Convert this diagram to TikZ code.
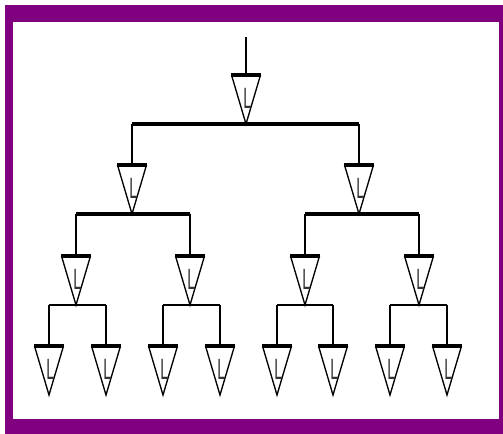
\documentclass[tikz,border=0pt]{standalone}
\usepackage{fontspec}
\setsansfont{Liberation Sans}
\definecolor{framepurple}{RGB}{128,0,128}
\tikzset{
  cone/.pic={
    \coordinate (-top) at (0,0);
    \coordinate (-tip) at (0,49);
    \draw [line width=1pt] (-14.5,0) -- (-tip) -- (14.5,0);
    \draw [line width=2.4pt] (-15,0) -- (15,0);
    \node (-lbl) [inner sep=0pt,xscale=0.5,font=\sffamily\fontsize{22}{22}\selectfont,text=black!80]
      at (1.5,23) {L};
  },
  bar/.style={line width=3pt},
  thinbar/.style={line width=1.8pt},
  leg/.style={line width=1.4pt}
}
\begin{document}
\begin{tikzpicture}[x=0.75pt,y=-0.75pt]
\useasboundingbox (0,0) rectangle (503,434);
% purple frame
\fill [framepurple] (5,5) rectangle (503,434);
\fill [white] (13,22) rectangle (499,419);

% cones, top centre of each
\pic (r) at (246,75) {cone};
\pic (a) at (132,165) {cone};
\pic (b) at (359,165) {cone};
\pic (aa) at (76,256) {cone};
\pic (ab) at (190,256) {cone};
\pic (ba) at (305,256) {cone};
\pic (bb) at (419,256) {cone};
\pic (aaa) at (49,346) {cone};
\pic (aab) at (106,346) {cone};
\pic (aba) at (163,346) {cone};
\pic (abb) at (220,346) {cone};
\pic (baa) at (277,346) {cone};
\pic (bab) at (333,346) {cone};
\pic (bba) at (390,346) {cone};
\pic (bbb) at (447,346) {cone};

% stem above the root
\coordinate (in) at (246,37);
\draw [leg] (in) -- (r-top);

% first level
\draw [bar] (a-top |- r-tip) -- (b-top |- r-tip);
\draw [leg] (a-top |- r-tip) -- (a-top);
\draw [leg] (b-top |- r-tip) -- (b-top);

% second level
\draw [bar] (aa-top |- a-tip) -- (ab-top |- a-tip);
\draw [leg] (aa-top |- a-tip) -- (aa-top);
\draw [leg] (ab-top |- a-tip) -- (ab-top);
\draw [bar] (ba-top |- b-tip) -- (bb-top |- b-tip);
\draw [leg] (ba-top |- b-tip) -- (ba-top);
\draw [leg] (bb-top |- b-tip) -- (bb-top);

% third level
\foreach \p in {aa,ab,ba,bb}{
  \draw [thinbar] (\p a-top |- \p-tip) -- (\p b-top |- \p-tip);
  \draw [leg] (\p a-top |- \p-tip) -- (\p a-top);
  \draw [leg] (\p b-top |- \p-tip) -- (\p b-top);
}
\end{tikzpicture}
\end{document}
